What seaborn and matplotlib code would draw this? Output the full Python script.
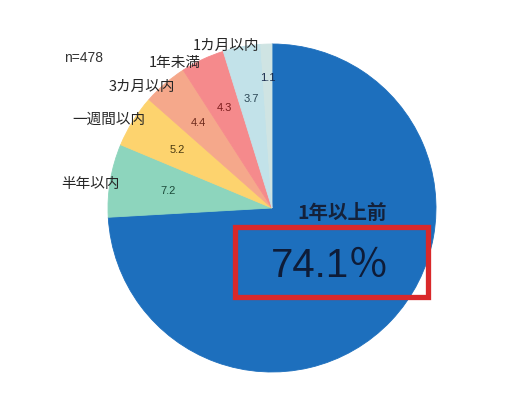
import matplotlib
matplotlib.use("Agg")
import matplotlib.pyplot as plt
import seaborn as sns
import numpy as np
from matplotlib.patches import Rectangle

# ---- data ----
categories = ["1年以上前", "半年以内", "一週間以内", "3カ月以内", "1年未満", "1カ月以内", "その他"]
values = [74.1, 7.2, 5.2, 4.4, 4.3, 3.7, 1.1]
value_labels = ["74.1", "7.2", "5.2", "4.4", "4.3", "3.7", "1.1"]
n_label = "n=478"
main_title = "1年以上前"
main_value = "74.1％"

# ---- styles ----
colors = ["#1d6fbd", "#8dd5bd", "#fdd36e", "#f5a88b", "#f58a8c", "#c2e2e9", "#cfe4e3"]
num_colors = [None, "#1c4a3a", "#4a3a12", "#6e2a1c", "#7c1c1c", "#2a4655", "#16284a"]
num_dist = [None, 0.64, 0.68, 0.69, 0.68, 0.68, 0.80]
# outer label positions (image pixel coords, centers)
outer_pos = [None, (91, 184), (109, 120), (142, 87), (175, 63), (226, 46), None]

sns.set_theme(style="white")
plt.rcParams['font.family'] = ['Liberation Sans', 'Noto Sans CJK JP', 'DejaVu Sans']

W, H = 510, 406
fig = plt.figure(figsize=(W / 100, H / 100), dpi=100)
ax = fig.add_axes([0, 0, 1, 1])

cx, cy, R = 272, H - 209, 164
wedges, _ = ax.pie(values, colors=colors, startangle=90, counterclock=False,
                   center=(cx, cy), radius=R,
                   wedgeprops=dict(linewidth=0.6))
for w, c in zip(wedges, colors):
    w.set_edgecolor(c)

ax.set_xlim(0, W)
ax.set_ylim(0, H)
ax.set_aspect('auto')
ax.axis('off')

def iy(y):
    return H - y

# inner numbers
for i, w in enumerate(wedges):
    if num_dist[i] is None:
        continue
    ang = np.deg2rad((w.theta1 + w.theta2) / 2)
    x = cx + R * num_dist[i] * np.cos(ang)
    y = cy + R * num_dist[i] * np.sin(ang)
    ax.text(x, y, value_labels[i], ha='center', va='center', fontsize=8,
            color=num_colors[i])

# outer labels
for i, p in enumerate(outer_pos):
    if p is None:
        continue
    ax.text(p[0], iy(p[1]), categories[i], ha='center', va='center',
            fontsize=10.5, color='#262626', family=['Noto Sans CJK JP', 'DejaVu Sans'])

ax.text(84, iy(58), n_label, ha='center', va='center', fontsize=10, color='#333333')

# main annotation
ax.text(342, iy(213), main_title, ha='center', va='center', fontsize=14,
        fontweight='bold', color='#14213a', family=['Noto Sans CJK JP', 'DejaVu Sans'])
ax.text(330, iy(266), main_value, ha='center', va='center', fontsize=29,
        color='#0e1c38', family=['Liberation Sans', 'Noto Sans CJK JP'])
ax.add_patch(Rectangle((235, iy(298)), 428 - 235, 298 - 228, fill=False,
                       edgecolor='#d9282a', linewidth=3.8))

fig.savefig("out.png", dpi=100)
